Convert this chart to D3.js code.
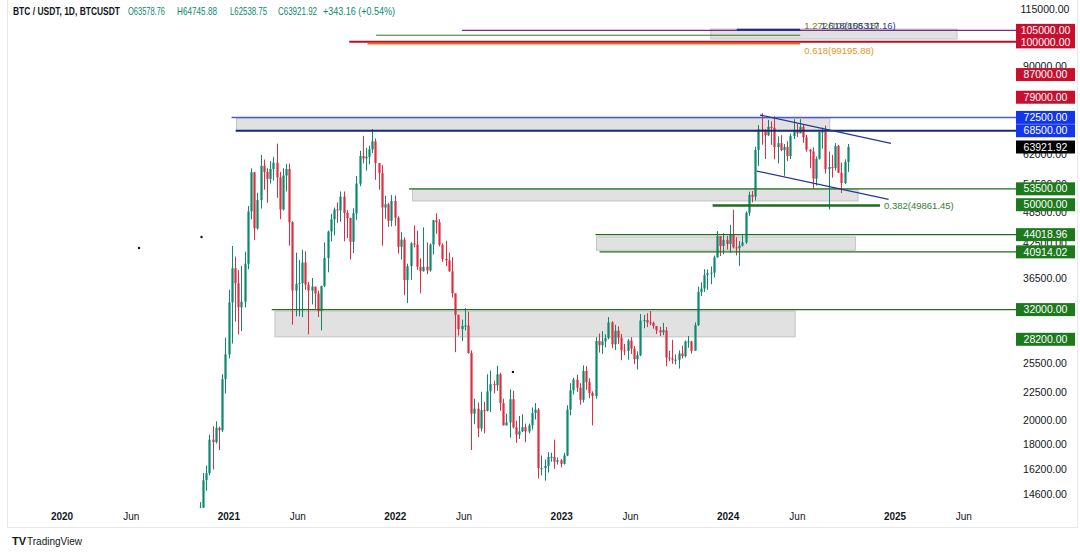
<!DOCTYPE html>
<html><head><meta charset="utf-8">
<script src="https://cdn.jsdelivr.net/npm/d3@7"></script>
<style>
body{margin:0;background:#fff;}
svg{display:block;font-family:"Liberation Sans",Arial,sans-serif;}
</style></head>
<body><svg id="c" width="1080" height="555"></svg>
<script>
// ---------- DATA ----------
const firstWeek = "2020-10-26";
const firstOpen = 13030;
const closes = [
 13780,15480,15950,18400,18200,19350,19150,23800,26450,33000,
 38150,35800,32300,33100,38900,48600,57400,45200,51000,59000,57500,55800,58200,59800,56200,49000,56600,58200,46400,34700,35700,35800,39100,35600,34700,35300,34250,31800,35400,39850,44600,47000,49000,48800,51750,48300,47250,42700,48200,54700,61500,60900,61300,63300,65500,59700,57200,49400,50100,46700,50800,47300,
 41800,43100,36300,38500,42400,42200,38400,37700,38400,37800,42200,46800,46400,42150,39700,39450,37650,34300,31300,29450,29850,29900,26600,20550,21000,19300,20850,20800,22600,23300,23200,24300,21500,19550,19800,21850,19400,18800,19050,19400,19050,19550,20600,20900,16300,16300,16450,17100,17100,16750,16850,16600,
 17200,20900,22700,23750,22950,21800,24650,23500,22450,22150,28000,27500,27950,28350,30300,27600,29250,28400,26900,26850,28050,27100,25900,26350,30550,30600,30300,30250,29850,29300,29050,29300,26100,26000,25850,25850,26550,26250,27950,27950,26850,29950,34500,35000,37050,37350,37450,39950,43750,41950,43050,42300,
 43950,41700,41550,42000,42600,48300,52150,51750,63100,68950,68400,67200,69650,69350,63900,64950,63100,63900,61500,66950,68500,67750,69650,66600,63200,62700,55850,60800,68150,68250,58200,58700,58450,64200,57300,54850,59950,63921.92
];
const highs = [
 14100,15960,16480,18800,19480,19900,19450,24300,28400,34800,
 41950,40100,37850,38500,40950,49700,58350,57500,52600,61800,60600,58400,60200,61300,64850,57500,58400,59500,59600,46600,40800,39500,41300,41000,36000,36600,35100,34700,35400,42600,44800,48100,49400,50500,52900,52900,48850,47300,49250,56500,62900,67000,63700,64300,69000,66300,59500,59200,51950,50400,52100,52000,
 47600,44500,43500,38900,42650,45800,44750,39800,45400,42600,42400,46900,48200,47000,42400,42900,40800,40000,34300,31300,30650,32200,31700,26900,21900,21550,22550,21600,24300,24700,23650,25200,24450,21900,20550,22800,22650,19950,20350,20500,19700,19700,21100,21500,21050,17200,16900,17450,17400,18400,17050,16950,
 17400,21300,23400,23950,24250,23400,25250,25150,23900,22600,28450,28900,29200,28800,31000,30450,30000,29800,28850,27650,28250,28450,27400,26800,31400,31300,31500,31800,30400,29700,29750,30250,29700,26850,28150,26450,26900,27450,28050,28600,28000,30300,35300,35950,38000,37950,38450,40250,44700,43450,44300,43800,
 45900,48950,43550,42850,43900,48600,52850,53000,64000,70150,73800,68950,71750,71300,72800,66900,67200,64750,65500,67700,71950,70600,71950,70200,67300,63350,63800,61400,68350,69400,70000,62700,61800,65000,64500,59800,60650,64750
];
const lows = [
 12980,13200,14800,15800,16200,18100,17600,19000,22400,26000,
 27700,30400,28800,29200,32300,38000,47000,43000,44950,49200,53300,50400,54700,55400,51500,47000,48800,52900,42000,30000,31100,31100,31000,34800,28800,32700,32100,31000,29300,35200,37500,42800,43900,46300,46500,42800,43400,39600,40700,46900,54100,59600,57800,59400,62300,55600,53300,42000,47100,45500,45600,45700,
 40600,39600,34000,32900,36300,41700,37900,34300,37600,37200,37600,40500,44200,41900,39200,38500,37600,33700,26700,28650,28000,29300,26550,17600,19650,18600,19050,18900,20750,20700,22400,22650,20800,19550,19550,18550,19300,18150,18450,19000,18200,18900,19200,20050,15600,15800,15450,16000,16750,16250,16550,16350,
 16550,17150,20400,22300,22550,21350,21550,22750,21950,19550,21900,26650,26500,27250,28200,27150,26950,27650,25800,26350,25850,26500,25350,24800,26250,29550,29700,29950,29500,28850,28600,28700,25150,25700,25400,25350,24900,26000,26100,27200,26550,26950,29850,33900,34500,34800,35650,36700,39950,40200,40500,41300,
 40750,41500,40300,38550,41850,42300,47700,50500,50900,59000,64550,60750,66950,64500,60650,59600,62800,56550,60200,60750,66100,66700,68500,65050,62700,58400,53500,54250,60600,63450,57100,49000,56100,57850,57200,52550,54600,57500
];

const yearTicks = ["2020-01-01","2021-01-01","2022-01-01","2023-01-01","2024-01-01","2025-01-01"];
const yearLabels = ["2020","2021","2022","2023","2024","2025"];
const monthTicks = ["2020-06-01","2021-06-01","2022-06-01","2023-06-01","2024-06-01","2025-06-01"];
const monthLabels = ["Jun","Jun","Jun","Jun","Jun","Jun"];

const axisTickPrices = [115000,90000,62000,54500,48500,42500,36500,25500,22500,20000,18000,16200,14600];
const markedPrices = [105000,100000,87000,79000,72500,68500,63921.92,53500,50000,44018.96,40914.02,32000,28200];
const markedKinds  = ["res","res","res","res","blue","blue","last","sup","sup","sup","sup","sup","sup"];

// horizontal levels: price, start date, end date (null = to price axis)
const levelNames  = ["purple105","red100","green1272","orange618","blue72","navy68","green535","green44","green409","green32","fib382","fib1618"];
const levelPrices = [105000,100000,102858.18,99195.88,72500,68500,53500,44018.96,40914.02,32000,49861.45,105317.16];
const levelStarts = ["2022-05-27","2021-09-22","2021-11-20","2021-11-01","2021-01-07","2021-01-16","2022-01-31","2023-03-16","2023-03-25","2021-04-05","2023-11-28","2024-01-20"];
const levelEnds   = [null,null,"2024-06-07","2024-06-07",null,null,null,null,null,null,"2024-11-29","2024-06-07"];

// zones: top price, bottom price, start, end
const zoneTops    = [105600,72300,53400,43600,31800];
const zoneBottoms = [101200,68600,50800,41200,28490];
const zoneStarts  = ["2023-11-24","2021-01-18","2022-02-08","2023-03-18","2021-04-12"];
const zoneEnds    = ["2025-05-17","2024-08-11","2024-10-12","2024-10-06","2024-05-27"];

// channel trend lines
const trendStarts = ["2024-03-11","2024-03-04"];
const trendStartPrices = [73250,57710];
const trendEnds = ["2024-12-23","2024-12-18"];
const trendEndPrices = [64930,51160];

const fibTexts = ["1.272(102858.18)","1.618(105317.16)","0.618(99195.88)","0.382(49861.45)"];
const fibTextDates = ["2024-06-16","2024-07-22","2024-06-16","2024-12-08"];
const fibTextPrices = [106900,106900,96400,49861.45];

const dotDates = ["2020-06-18","2020-11-02","2022-09-16"];
const dotPrices = [41590,43580,24545];

const headerTitle = "BTC / USDT, 1D, BTCUSDT";
const headerValues = ["O63578.76","H64745.88","L62538.75","C63921.92","+343.16 (+0.54%)"];

// ---------- STYLE ----------
const UP="#0b8a70", DOWN="#e32b41";
const levelStyle = {
 purple105:{c:"#7e2a8a",w:1.3}, red100:{c:"#b3102c",w:2}, green1272:{c:"#2c7a2c",w:1},
 orange618:{c:"#ef6c00",w:1.5}, blue72:{c:"#4a5bd4",w:1.5}, navy68:{c:"#142a72",w:2},
 green535:{c:"#1f6d1f",w:1.2}, green44:{c:"#1f6d1f",w:1.2}, green409:{c:"#1f6d1f",w:1.2},
 green32:{c:"#1f6d1f",w:1.2}, fib382:{c:"#1e6b1e",w:2.5}, fib1618:{c:"#1c2e8c",w:2}
};
const kindFill = {res:"#c8102e", blue:"#1236f0", last:"#000000", sup:"#1c7a1c"};
const fibColors = ["#6f7a2a","#2a3a9a","#e6951c","#2e7d32"];

// ---------- SCALES ----------
const parse = d3.utcParse("%Y-%m-%d");
const svg = d3.select("#c");
const PL=7, PR=1012, PT=0, PB=508;
const x = d3.scaleUtc().domain([parse("2020-01-01"), parse("2025-01-01")]).range([62, 895]);
const y = d3.scaleLog().domain([14600, 63921.92]).range([494, 147]);

// frame
svg.append("line").attr("x1",7.5).attr("x2",7.5).attr("y1",0).attr("y2",527).attr("stroke","#e6e8ee");
svg.append("line").attr("x1",1077.5).attr("x2",1077.5).attr("y1",0).attr("y2",527).attr("stroke","#e6e8ee");
svg.append("line").attr("x1",7).attr("x2",1078).attr("y1",527.5).attr("y2",527.5).attr("stroke","#e6e8ee");

svg.append("defs").append("clipPath").attr("id","plot").append("rect")
  .attr("x",PL).attr("y",PT).attr("width",PR-PL).attr("height",PB-PT);
const plot = svg.append("g").attr("clip-path","url(#plot)");

// zones
zoneTops.forEach((t,i)=>{
  plot.append("rect")
   .attr("x", x(parse(zoneStarts[i]))).attr("y", y(t))
   .attr("width", x(parse(zoneEnds[i]))-x(parse(zoneStarts[i])))
   .attr("height", y(zoneBottoms[i])-y(t))
   .attr("fill","#dcdcdc").attr("fill-opacity",0.85)
   .attr("stroke","#b9b9b9").attr("stroke-width",0.8);
});

// horizontal levels
levelPrices.forEach((p,i)=>{
  const st = levelStyle[levelNames[i]];
  const x2 = levelEnds[i] ? x(parse(levelEnds[i])) : 1016;
  svg.append("line").attr("x1",x(parse(levelStarts[i]))).attr("x2",x2)
    .attr("y1",y(p)).attr("y2",y(p)).attr("stroke",st.c).attr("stroke-width",st.w);
});

// candles
const wk0 = parse(firstWeek);
const candles = closes.map((c,i)=>({
  t: d3.utcHour.offset(d3.utcWeek.offset(wk0, i), 84),
  o: i===0 ? firstOpen : closes[i-1], h: highs[i], l: lows[i], c: c
}));
const cg = plot.append("g");
cg.selectAll("line.w").data(candles).join("line").attr("class","w")
  .attr("x1",d=>Math.round(x(d.t))+0.5).attr("x2",d=>Math.round(x(d.t))+0.5)
  .attr("y1",d=>y(d.h)).attr("y2",d=>y(d.l))
  .attr("stroke",d=>d.c>=d.o?UP:DOWN).attr("stroke-width",1);
cg.selectAll("rect.b").data(candles).join("rect").attr("class","b")
  .attr("x",d=>Math.round(x(d.t))-0.6).attr("width",2.2)
  .attr("y",d=>y(Math.max(d.o,d.c)))
  .attr("height",d=>Math.max(1,Math.abs(y(d.o)-y(d.c))))
  .attr("fill",d=>d.c>=d.o?UP:DOWN);

// trend lines
trendStarts.forEach((s,i)=>{
  svg.append("line").attr("x1",x(parse(s))).attr("y1",y(trendStartPrices[i]))
    .attr("x2",x(parse(trendEnds[i]))).attr("y2",y(trendEndPrices[i]))
    .attr("stroke","#25398f").attr("stroke-width",1.3);
});

// dots
dotDates.forEach((d,i)=>{
  svg.append("circle").attr("cx",x(parse(d))).attr("cy",y(dotPrices[i])).attr("r",1.2).attr("fill","#111");
});

// fib texts
fibTexts.forEach((t,i)=>{
  svg.append("text").attr("x",x(parse(fibTextDates[i]))).attr("y",y(fibTextPrices[i]))
    .attr("dy","0.35em").attr("font-size",9.5).attr("fill",fibColors[i]).text(t);
});

// price axis plain ticks
const ax = svg.append("g");
ax.selectAll("text").data(axisTickPrices).join("text")
  .attr("x",1045).attr("y",d=>y(d)).attr("dy","0.35em").attr("text-anchor","middle")
  .attr("font-size",10.5).attr("fill","#131722")
  .text(d=>d3.format(".2f")(d));

// marked labels
const lab = svg.append("g");
markedPrices.forEach((p,i)=>{
  lab.append("rect").attr("x",1016).attr("y",y(p)-6.5).attr("width",59).attr("height",13)
    .attr("fill",kindFill[markedKinds[i]]);
});
markedPrices.forEach((p,i)=>{
  lab.append("text").attr("x",1045.5).attr("y",y(p)).attr("dy","0.35em").attr("text-anchor","middle")
    .attr("font-size",10.5).attr("fill","#fff").text(d3.format(".2f")(p));
});

// time axis
const tg = svg.append("g");
yearTicks.forEach((d,i)=>{
  tg.append("text").attr("x",x(parse(d))).attr("y",516).attr("dy","0.35em").attr("text-anchor","middle")
   .attr("font-size",10).attr("font-weight","bold").attr("fill","#131722").text(yearLabels[i]);
});
monthTicks.forEach((d,i)=>{
  tg.append("text").attr("x",x(parse(d))).attr("y",516).attr("dy","0.35em").attr("text-anchor","middle")
   .attr("font-size",10).attr("fill","#131722").text(monthLabels[i]);
});

// header
const hx = [13,128,177,230,278,323], hw=[107,37,40,37,39,72];
svg.append("text").attr("x",hx[0]).attr("y",15).attr("font-size",10.5).attr("font-weight","bold")
  .attr("fill","#131722").attr("textLength",hw[0]).attr("lengthAdjust","spacingAndGlyphs").text(headerTitle);
headerValues.forEach((v,i)=>{
  svg.append("text").attr("x",hx[i+1]).attr("y",15).attr("font-size",10.5)
   .attr("fill","#0a8a6e").attr("textLength",hw[i+1]).attr("lengthAdjust","spacingAndGlyphs").text(v);
});

// TradingView footer
const f = svg.append("g");
f.append("text").attr("x",12).attr("y",545).attr("font-size",11).attr("font-weight","bold").attr("fill","#131722").text("TV");
f.append("text").attr("x",27).attr("y",545).attr("font-size",10).attr("fill","#131722").text("TradingView");
</script></body></html>
